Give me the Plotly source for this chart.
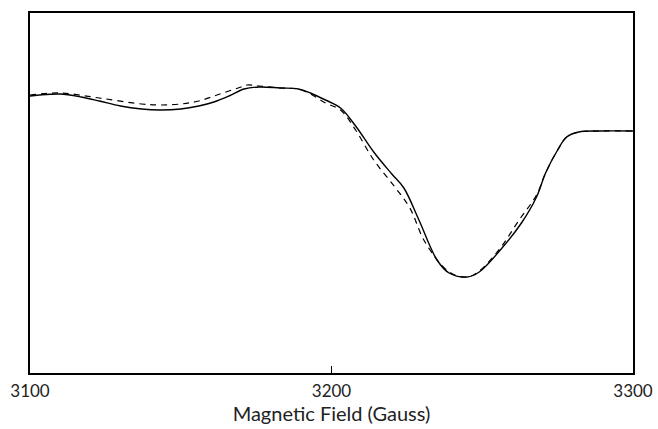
import plotly.graph_objects as go

# Magnetic field (Gauss) and signal intensity (arbitrary units)
field_solid = [3100, 3103, 3110, 3117, 3123, 3130, 3137, 3143, 3150, 3156, 3161, 3166, 3171, 3176, 3183, 3189,
               3193, 3198, 3203, 3208, 3214, 3220, 3224, 3229, 3235, 3239, 3245, 3249, 3256, 3263, 3268, 3271,
               3275, 3278, 3282, 3289, 3300]
signal_solid = [277, 278, 279, 276, 272, 267, 264, 263, 264, 267, 271, 277, 284, 286, 285, 284,
                280, 273, 265, 247, 221, 199, 185, 153, 113, 100, 96, 101, 123, 150, 176, 200,
                223, 236, 241, 242, 242]

field_dashed = [3100, 3110, 3123, 3137, 3143, 3150, 3156, 3163, 3170, 3172, 3176, 3183, 3189, 3193, 3198,
                3203, 3208, 3214, 3221, 3226, 3231, 3239, 3245, 3249, 3256, 3262, 3268, 3271, 3275, 3278,
                3282, 3289, 3300]
signal_dashed = [278, 280, 275, 269, 268, 269, 272, 279, 286, 288, 287, 285, 284, 279, 270,
                 263, 243, 213, 186, 165, 131, 101, 96, 102, 125, 152, 178, 200, 223, 236,
                 241, 242, 242]

x_ticks = [3100, 3200, 3300]
x_title = "Magnetic Field (Gauss)"

fig = go.Figure()
fig.add_trace(go.Scatter(x=field_solid, y=signal_solid, mode="lines",
                         line=dict(color="black", width=1.4, shape="spline", smoothing=1.0),
                         showlegend=False))
fig.add_trace(go.Scatter(x=field_dashed, y=signal_dashed, mode="lines",
                         line=dict(color="black", width=1.2, dash="6px,5px", shape="spline", smoothing=1.0),
                         showlegend=False))

font = dict(family="Lato, DejaVu Sans, sans-serif", size=17, color="#222")
fig.update_layout(
    width=658, height=429,
    margin=dict(l=30, r=25, t=13, b=56),
    plot_bgcolor="white", paper_bgcolor="white",
    font=font,
    hovermode=False,
    xaxis=dict(range=[3100, 3300], tickvals=x_ticks, ticktext=[str(v) for v in x_ticks],
               showgrid=False, zeroline=False, showline=True, linecolor="black", linewidth=2,
               mirror=True, ticks="inside", ticklen=7, tickwidth=1, tickcolor="black",
               title=dict(text=x_title, standoff=4), ticklabelstandoff=2, automargin=False),
    yaxis=dict(range=[0, 360], showticklabels=False, showgrid=False, zeroline=False,
               showline=True, linecolor="black", linewidth=2, mirror=True, ticks="",
               automargin=False),
)
fig.write_html("out.html", config={"displayModeBar": False, "staticPlot": True},
               post_script="document.body.style.margin='0';document.body.style.overflow='hidden';")
